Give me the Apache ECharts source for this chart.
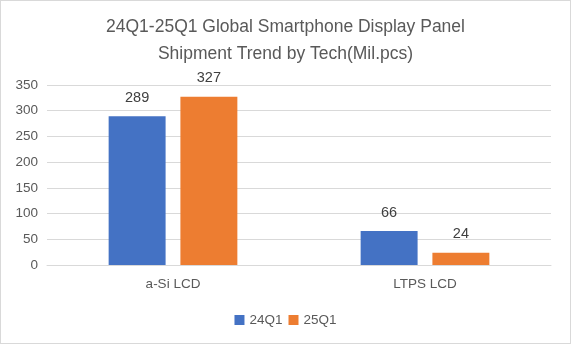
<!DOCTYPE html>
<html>
<head>
<meta charset="utf-8">
<script src="https://cdn.jsdelivr.net/npm/echarts@6/dist/echarts.min.js"></script>
<style>
  html, body { margin: 0; padding: 0; background: #fff; }
  #chart { width: 569px; height: 342px; border: 1px solid #d9d9d9; }
</style>
</head>
<body>
<div id="chart"></div>
<script>
// Smartphone display panel shipments by technology, million pcs
const categories = ['a-Si LCD', 'LTPS LCD'];
const seriesNames = ['24Q1', '25Q1'];
const values24Q1 = [289, 66];
const values25Q1 = [327, 24];
const yTicks = { min: 0, max: 350, interval: 50 };

const chart = echarts.init(document.getElementById('chart'), null, { renderer: 'canvas' });
const font = 'Liberation Sans, Arial, sans-serif';

const valueLabel = {
  show: true, position: 'top', distance: 11,
  fontFamily: font, fontSize: 14.5, color: '#404040'
};

chart.setOption({
  animation: false,
  backgroundColor: '#fff',
  title: {
    text: '24Q1-25Q1 Global Smartphone Display Panel\nShipment Trend by Tech(Mil.pcs)',
    left: 'center',
    top: 8,
    textStyle: { fontFamily: font, fontSize: 17.5, fontWeight: 'normal', color: '#595959', lineHeight: 27 }
  },
  legend: {
    bottom: 11,
    left: 'center',
    itemWidth: 10,
    itemHeight: 10,
    itemGap: 6,
    icon: 'rect',
    textStyle: { fontFamily: font, fontSize: 13.5, color: '#595959' },
    data: seriesNames
  },
  grid: { left: 46, right: 19, top: 84, bottom: 78, containLabel: false },
  xAxis: {
    type: 'category',
    data: categories,
    axisLine: { lineStyle: { color: '#d9d9d9' } },
    axisTick: { show: false },
    axisLabel: { fontFamily: font, fontSize: 13.5, color: '#595959', margin: 12 }
  },
  yAxis: {
    type: 'value',
    min: yTicks.min,
    max: yTicks.max,
    interval: yTicks.interval,
    axisLine: { show: false },
    axisTick: { show: false },
    splitLine: { lineStyle: { color: '#d9d9d9' } },
    axisLabel: { fontFamily: font, fontSize: 13.5, color: '#595959', margin: 9 }
  },
  series: [
    {
      name: seriesNames[0],
      type: 'bar',
      data: values24Q1,
      barWidth: '22.6%',
      barGap: '26%',
      itemStyle: { color: '#4472C4' },
      label: valueLabel
    },
    {
      name: seriesNames[1],
      type: 'bar',
      data: values25Q1,
      barWidth: '22.6%',
      itemStyle: { color: '#ED7D31' },
      label: valueLabel
    }
  ]
});
</script>
</body>
</html>
